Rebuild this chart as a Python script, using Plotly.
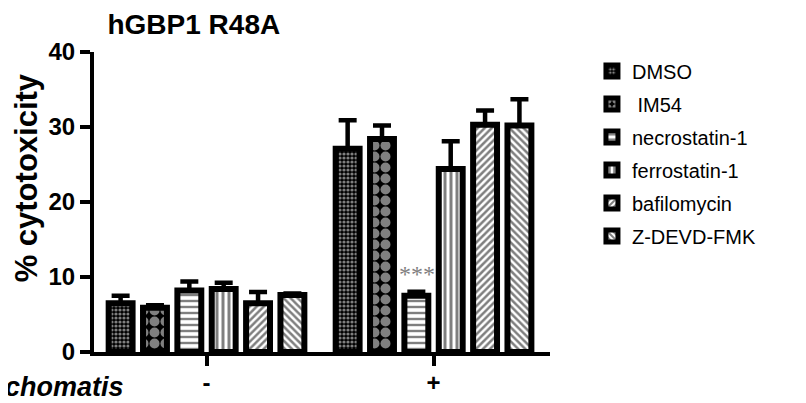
import plotly.graph_objects as go

groups = ["-", "+"]
treatments = ["DMSO", " IM54", "necrostatin-1", "ferrostatin-1", "bafilomycin", "Z-DEVD-FMK"]
minus_vals = [6.5, 5.9, 8.2, 8.4, 6.5, 7.6]
minus_err = [1.0, 0.35, 1.2, 0.85, 1.5, 0.2]
plus_vals = [27.1, 28.4, 7.5, 24.4, 30.3, 30.2]
plus_err = [3.8, 1.8, 0.55, 3.7, 1.9, 3.5]
y_ticks = [0, 10, 20, 30, 40]

patterns = [
    dict(shape=".", fgcolor="white", bgcolor="black", size=4, solidity=0.5),
    dict(shape=".", fgcolor="white", bgcolor="black", size=11, solidity=0.65),
    dict(shape="-", fgcolor="black", bgcolor="white", size=6, solidity=0.4),
    dict(shape="|", fgcolor="black", bgcolor="white", size=6, solidity=0.5),
    dict(shape="/", fgcolor="black", bgcolor="white", size=5, solidity=0.5),
    dict(shape="\\", fgcolor="black", bgcolor="white", size=5, solidity=0.5),
]

FONT = "Liberation Sans, Arial, sans-serif"
OFF = 8  # page body margin
# plot area in page pixels
L, R, T, B = 93.5 - OFF, 550 - OFF, 51.5 - OFF, 352 - OFF
PW, PH = R - L, B - T


def pxx(xpage):
    return (xpage - OFF - L) / PW


def pxy(ypage):
    return (B - (ypage - OFF)) / PH


fig = go.Figure()
for i, name in enumerate(treatments):
    fig.add_trace(go.Bar(
        name=name,
        x=groups,
        y=[minus_vals[i], plus_vals[i]],
        error_y=dict(type="data", array=[minus_err[i], plus_err[i]],
                     arrayminus=[0, 0], symmetric=False,
                     color="black", thickness=4.5, width=9),
        marker=dict(color="black", line=dict(color="black", width=6),
                    pattern=patterns[i]),
        legendgroup=str(i),
    ))

# significance marker above necrostatin-1 in "+" group
fig.add_annotation(x=1, y=plus_vals[2] + plus_err[2], xref="x", yref="y",
                   text="***", showarrow=False, xshift=-17, yanchor="bottom", yshift=3,
                   font=dict(family="Liberation Serif, serif", size=24, color="#808080"))

fig.add_annotation(xref="paper", yref="paper", text="C. trachomatis", showarrow=False,
                   x=pxx(126), y=pxy(404),
                   xanchor="right", yanchor="bottom",
                   font=dict(family=FONT, size=27, color="black", weight="bold", style="italic"))

fig.add_annotation(xref="paper", yref="paper", text="% cytotoxicity", showarrow=False,
                   x=pxx(26), y=pxy(177.5), textangle=-90,
                   xanchor="center", yanchor="middle",
                   font=dict(family=FONT, size=31, color="black", weight="bold"))

fig.update_layout(
    width=806, height=403,
    margin=dict(l=L, r=806 - R, t=T, b=403 - B, autoexpand=False),
    paper_bgcolor="white", plot_bgcolor="white",
    barmode="group", bargap=0.092, bargroupgap=0.304,
    title=dict(text="hGBP1 R48A", x=pxx(107), xref="paper", xanchor="left",
               y=1 - (24 - OFF) / 403, yref="container", yanchor="middle",
               font=dict(family=FONT, size=28, color="black", weight="bold")),
    font=dict(family=FONT, color="black"),
    showlegend=True,
    legend=dict(x=pxx(592), xanchor="left", y=pxy(51), yanchor="top",
                font=dict(family=FONT, size=20, color="black"),
                tracegroupgap=4, maxheight=390, bgcolor="rgba(0,0,0,0)"),
)
fig.update_xaxes(
    type="category", range=[-0.4956, 1.513], automargin=False,
    showline=True, linewidth=4, linecolor="black",
    ticks="outside", ticklen=10, tickwidth=4, tickcolor="black",
    ticklabelstandoff=-4,
    tickfont=dict(family=FONT, size=24, color="black", weight="bold"),
    showgrid=False, zeroline=False,
)
fig.update_yaxes(
    range=[0, 40], tickvals=y_ticks, automargin=False,
    showline=True, linewidth=4, linecolor="black",
    ticks="outside", ticklen=10, tickwidth=4, tickcolor="black",
    tickfont=dict(family=FONT, size=24, color="black", weight="bold"),
    showgrid=False, zeroline=False,
)

fig.write_html("out.html")
